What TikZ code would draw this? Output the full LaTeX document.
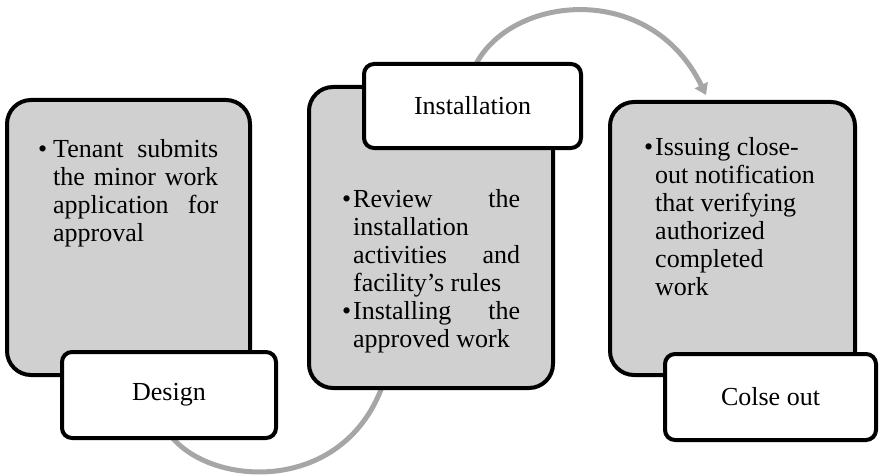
\documentclass[tikz,border=0pt]{standalone}
\usepackage{fontspec}
\setmainfont{Liberation Serif}
\usetikzlibrary{arrows.meta,backgrounds}
\definecolor{boxgray}{RGB}{208,208,208}
\definecolor{arcgray}{RGB}{166,166,166}
\newcommand{\jl}[2]{\makebox[#1][s]{#2}}
\begin{document}
\begin{tikzpicture}[x=1pt,y=-1pt,
  graybox/.style={draw=black, line width=4pt, fill=boxgray, rounded corners=24pt, inner sep=0pt},
  labelbox/.style={draw=black, line width=4pt, fill=white, rounded corners=10pt, inner sep=0pt,
    font=\fontsize{26}{28}\selectfont},
  bodytext/.style={anchor=north west, inner sep=0pt, align=left, font=\fontsize{26}{28}\selectfont},
  arcline/.style={draw=arcgray, line width=5pt, -{Triangle[length=11pt,width=14pt]}}]
\useasboundingbox (0,0) rectangle (880,476);
% gray boxes
\node[graybox, minimum width=243pt, minimum height=275pt] (b1) at (128.5,237.5) {};
\node[graybox, minimum width=244pt, minimum height=301pt] (b2) at (431,237.5) {};
\node[graybox, minimum width=245pt, minimum height=273pt] (b3) at (732.5,238.5) {};
% texts
\node[bodytext] (t1) at (38,139) {\makebox[15pt][l]{•}\jl{165pt}{Tenant submits}\\
  \hspace*{15pt}\jl{165pt}{the minor work}\\
  \hspace*{15pt}\jl{165pt}{application for}\\
  \hspace*{15pt}approval};
\node[bodytext] (t2) at (342,189) {\makebox[11pt][l]{•}\jl{167pt}{Review the}\\
  \hspace*{11pt}installation\\
  \hspace*{11pt}\jl{167pt}{activities and}\\
  \hspace*{11pt}facility’s rules\\
  \makebox[11pt][l]{•}\jl{167pt}{Installing the}\\
  \hspace*{11pt}approved work};
\node[bodytext] (t3) at (644,137) {\makebox[11pt][l]{•}Issuing close-\\
  \hspace*{11pt}out notification\\
  \hspace*{11pt}that verifying\\
  \hspace*{11pt}authorized\\
  \hspace*{11pt}completed\\
  \hspace*{11pt}work};
% label boxes
\node[labelbox, minimum width=214pt, minimum height=86pt] (d) at (169,395) {Design};
\node[labelbox, minimum width=217pt, minimum height=84pt] (i) at (472.5,106) {Installation};
\node[labelbox, minimum width=211pt, minimum height=86pt] (c) at (770.5,397) {Colse out};
% arcs
\coordinate (a1s) at (168,432);
\coordinate (a1e) at (386,376);
\coordinate (a2s) at (475,66);
\coordinate (a2e) at (706,95);
\begin{scope}[on background layer]
\draw[arcline] (a1s) .. controls (205,487) and (342,497) .. (a1e);
\draw[arcline] (a2s) .. controls (510,-5) and (650,-20) .. (a2e);
\end{scope}
\end{tikzpicture}
\end{document}
